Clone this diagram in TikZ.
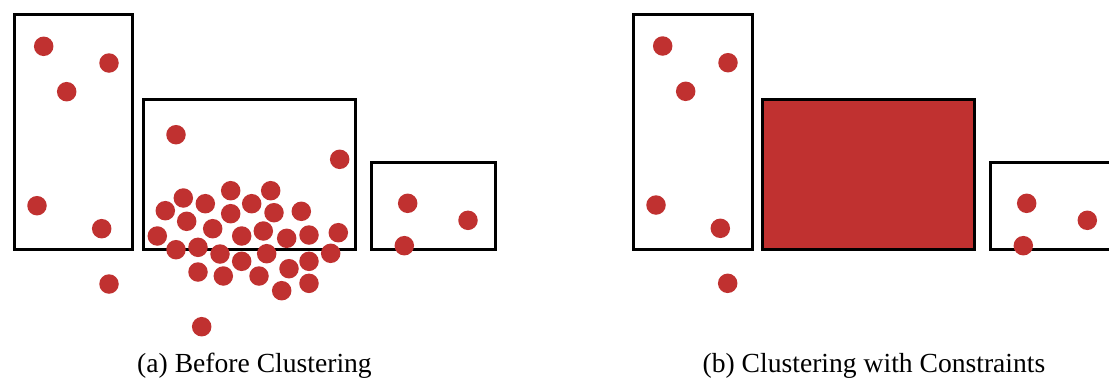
\documentclass[tikz,border=0pt]{standalone}
\usepackage{fontspec}
\setmainfont{Liberation Serif}
\definecolor{dotred}{RGB}{192,49,48}
\begin{document}
\begin{tikzpicture}[x=1pt,y=-1pt,
  dot/.style={circle,fill=dotred,draw=none,inner sep=0pt,minimum size=19.5pt},
  boxframe/.style={draw=black,line width=3pt},
  captext/.style={font=\fontsize{27.6}{30}\selectfont,anchor=base,inner sep=0pt}]
\useasboundingbox (0,0) rectangle (1109,381);
\begin{scope}
\clip (0,0) rectangle (1109,381);
% (a) boxes
\draw[boxframe] (14,14) rectangle (132.5,249);
\draw[boxframe] (143,99.5) rectangle (355,249);
\draw[boxframe] (371,162.3) rectangle (495,249);
% (a) dots
\foreach \x/\y [count=\i] in {43.7/46.3,109/63,66.7/91.7,37/205.7,101.7/228.7,109/284,
  176/134.7,339.7/159.3,
  165.3/210.7,183.3/198,205.3/203.7,230.7/190.7,251.7/203.7,270.7/190.7,301.3/211.3,
  186.7/221.3,230.7/213.7,274/212.7,157.3/236,212.7/228.7,241.7/236,263.3/231,
  286.7/238.3,309/235,338.3/232.7,176/249.7,198/247.3,220/254,266.7/253.7,330.7/253.3,
  241.7/261.3,309/261.3,198/272,223.3/276,259/276,289/268.7,309/283.3,281.7/290.7,
  201.7/326.7,407.7/203.3,468/220.3,404.3/245.7}
  \node[dot] (a\i) at (\x,\y) {};
% (b) boxes
\draw[boxframe] (633.5,14) rectangle (752,249);
\draw[boxframe,fill=dotred] (762,99.5) rectangle (974.3,249);
\draw[boxframe] (990,162.3) rectangle (1114,249);
% (b) dots
\foreach \x/\y [count=\i] in {662.7/46,728/62.7,685.7/91.3,656/205,720.3/228.3,727.7/283.3,
  1026.7/203.3,1087.3/220.3,1023.3/245.7}
  \node[dot] (b\i) at (\x,\y) {};
\end{scope}
\node[captext] (capa) at (254.5,372) {(a) Before Clustering};
\node[captext] (capb) at (874,372) {(b) Clustering with Constraints};
\end{tikzpicture}
\end{document}
